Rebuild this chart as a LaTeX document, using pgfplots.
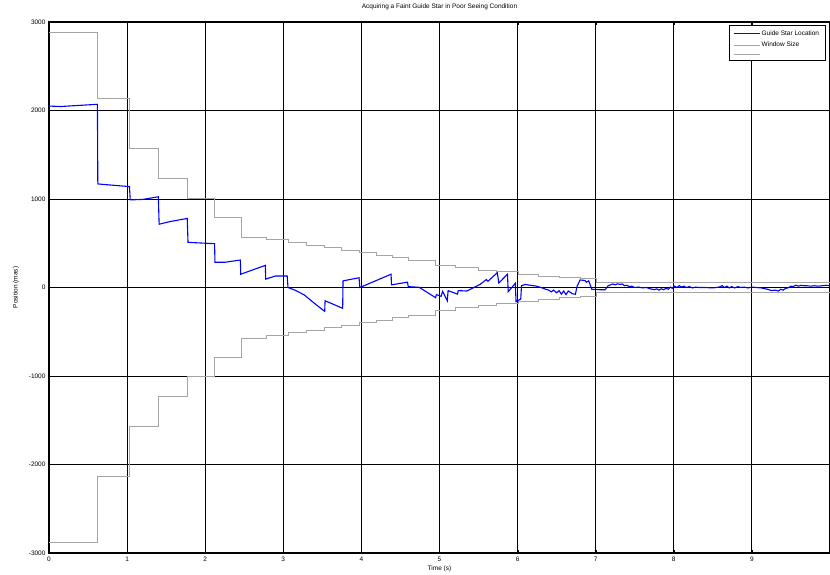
\documentclass[border=0pt]{standalone}
\usepackage{fontspec}
\setmainfont{Liberation Sans}
\usepackage{pgfplots}
\pgfplotsset{compat=1.18}
\definecolor{winGray}{RGB}{165,165,165}
\definecolor{starBlue}{RGB}{0,0,255}
\begin{document}
\begin{tikzpicture}
\begin{axis}[name=ax, width=781pt, height=531pt, scale only axis,
  xmin=0, xmax=10, ymin=-3000, ymax=3000,
  xtick={0,1,2,3,4,5,6,7,8,9,10},
  xticklabels={0,1,2,3,4,5,6,7,8,9,},
  ytick={-3000,-2000,-1000,0,1000,2000,3000},
  yticklabels={-3000,-2000,-1000,0,1000,2000,3000},
  grid=major, major grid style={black, line width=0.9pt},
  axis line style={black, line width=1.3pt},
  tick align=inside, major tick length=3pt, tick style={black},
  ticklabel style={font=\fontsize{6.5}{7}\selectfont},
  title={Acquiring a Faint Guide Star in Poor Seeing Condition},
  title style={font=\fontsize{6.5}{7}\selectfont, at={(axis description cs:0.5,1)}, anchor=south, yshift=3pt},
  xlabel={Time (s)},
  xlabel style={font=\fontsize{6.5}{7}\selectfont, at={(axis description cs:0.5,-0.030)}, anchor=center},
  ylabel={Position (mas)},
  ylabel style={font=\fontsize{6.5}{7}\selectfont, at={(axis description cs:-0.0423,0.5)}, anchor=center},
  legend style={at={(rel axis cs:0.994,0.994)}, anchor=north east, font=\fontsize{6.5}{8}\selectfont,
    inner xsep=4pt, inner ysep=3pt, row sep=1.5pt, cells={anchor=west}},
  legend image code/.code={\fill[#1] (0pt,-0.55pt) rectangle (26pt,0.55pt);},
]
\addlegendimage{fill=starBlue, draw=none}
\addlegendentry{Guide Star Location}
\addlegendimage{fill=winGray, draw=none}
\addlegendentry{Window Size}
\addlegendimage{fill=winGray, draw=none}
\addlegendentry{}
\addplot[forget plot, color=starBlue, line width=1.1pt] coordinates {
(0,2050) (0.15,2045) (0.62,2070) (0.625,1170) (1.03,1140) (1.04,990) (1.20,995) (1.40,1025)
(1.41,715) (1.55,745) (1.77,780) (1.78,510) (2.12,495) (2.125,285) (2.25,285) (2.45,310)
(2.455,150) (2.77,250) (2.775,95) (2.90,130) (3.05,130) (3.06,0) (3.15,-30) (3.27,-85)
(3.40,-180) (3.53,-270) (3.535,-150) (3.76,-235) (3.765,75) (3.97,110) (3.98,0) (4.38,150)
(4.385,30) (4.59,60) (4.60,10) (4.74,2) (4.95,-115) (4.96,-80) (5.02,-100) (5.04,-45)
(5.10,-150) (5.11,-35) (5.23,-75) (5.24,-35) (5.35,-40) (5.44,0) (5.52,35) (5.60,90)
(5.62,70) (5.74,167) (5.76,51) (5.87,150) (5.88,-47) (5.97,47) (5.98,-160) (6.04,-130)
(6.05,20) (6.10,35) (6.14,28) (6.23,17) (6.30,0) (6.36,-20) (6.40,-30) (6.43,-50)
(6.46,-30) (6.50,-60) (6.53,-35) (6.56,-75) (6.59,-40) (6.62,-80) (6.65,-40) (6.70,-70)
(6.74,-77) (6.76,10) (6.80,85) (6.86,80) (6.88,60) (6.91,75) (6.95,-20) (7.05,-25)
(7.12,-25) (7.16,20) (7.22,40) (7.25,30) (7.28,42) (7.31,35) (7.34,40) (7.37,20) (7.40,25)
(7.43,10) (7.46,15) (7.50,0) (7.55,5) (7.60,-5) (7.65,0) (7.70,-15) (7.75,-25) (7.78,-15)
(7.81,-30) (7.84,-15) (7.87,-25) (7.90,-10) (7.93,-20) (7.96,5) (7.98,-10) (8.01,15)
(8.04,0) (8.07,20) (8.10,5) (8.13,15) (8.16,0) (8.20,10) (8.24,-5) (8.28,5) (8.32,0)
(8.40,0) (8.50,-5) (8.58,5) (8.62,20) (8.65,0) (8.68,15) (8.71,-5) (8.74,10) (8.78,-5)
(8.82,10) (8.86,0) (8.90,5) (8.95,-5) (9.00,5) (9.05,0) (9.12,-5) (9.20,-20) (9.25,-35)
(9.30,-30) (9.34,-40) (9.37,-20) (9.40,-30) (9.43,-10) (9.46,-5) (9.50,15) (9.53,10)
(9.56,25) (9.60,15) (9.63,25) (9.66,20) (9.70,20) (9.75,15) (9.80,20) (9.85,15) (9.90,20)
(9.95,25) (10,20)
};
\addplot[forget plot, color=winGray, line width=0.8pt, const plot] coordinates {
(0,2880) (0.625,2140) (1.03,1570) (1.40,1230) (1.775,1010) (2.12,790) (2.46,570) (2.78,540)
(3.06,506) (3.30,480) (3.53,450) (3.75,424) (3.97,393) (4.19,367) (4.40,337) (4.60,311)
(4.95,254) (5.20,228) (5.50,198) (5.73,179) (6.01,153) (6.27,130) (6.53,111) (6.80,100)
(7.01,60) (10,60)
};
\addplot[forget plot, color=winGray, line width=0.8pt, const plot] coordinates {
(0,-2880) (0.625,-2140) (1.03,-1570) (1.40,-1230) (1.775,-1010) (2.12,-790) (2.46,-570) (2.78,-540)
(3.06,-506) (3.30,-480) (3.53,-450) (3.75,-424) (3.97,-393) (4.19,-367) (4.40,-337) (4.60,-311)
(4.95,-254) (5.20,-228) (5.50,-198) (5.73,-179) (6.01,-153) (6.27,-130) (6.53,-111) (6.80,-100)
(7.01,-60) (10,-60)
};
\end{axis}
\pgfresetboundingbox
\path[use as bounding box] ([xshift=-49pt,yshift=-22pt]ax.south west) rectangle ([yshift=22pt]ax.north east);
\end{tikzpicture}
\end{document}
